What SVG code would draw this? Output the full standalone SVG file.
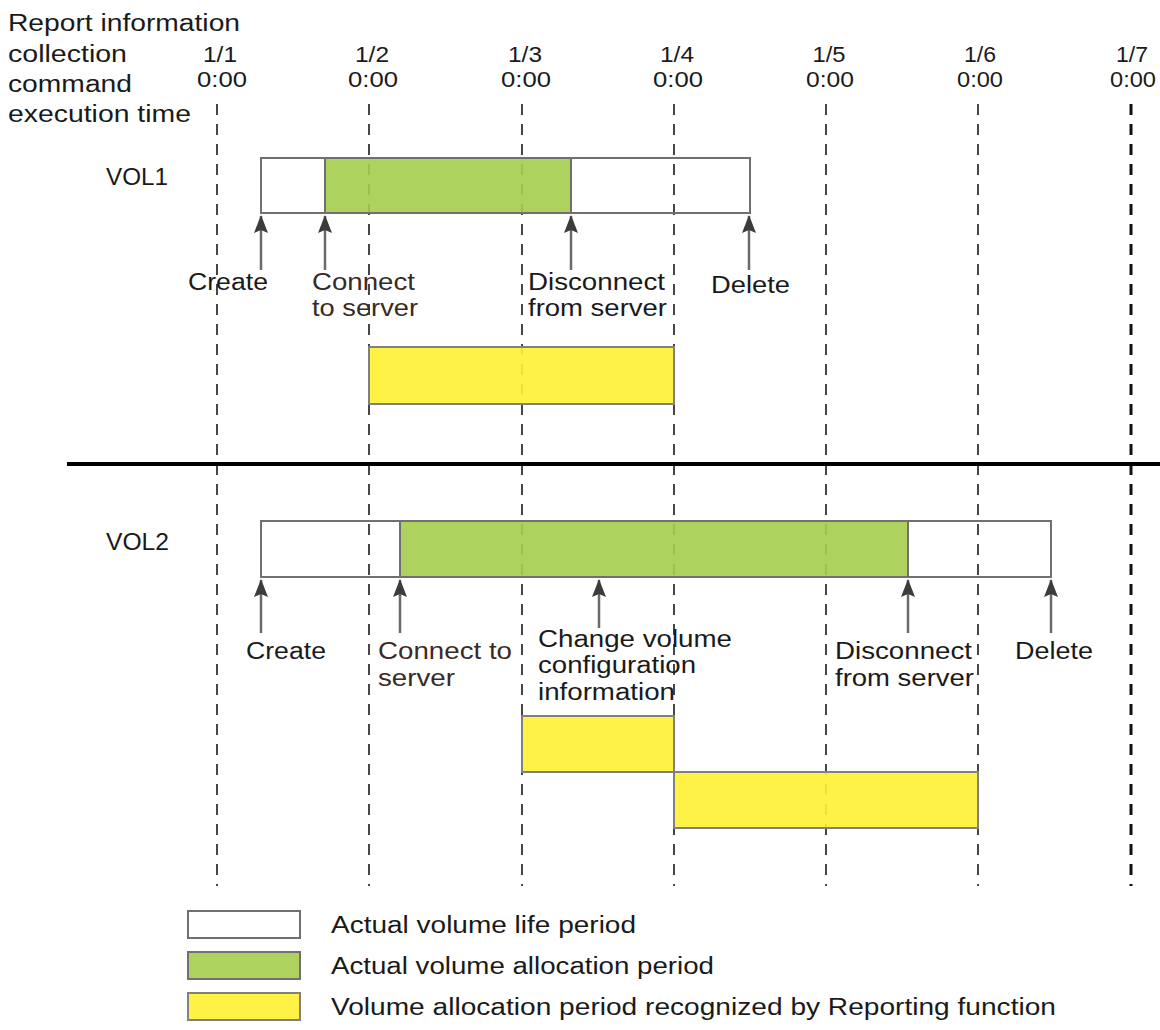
<svg xmlns="http://www.w3.org/2000/svg" width="1160" height="1030" viewBox="0 0 1160 1030">
<style>
  text { font-family: "Liberation Sans", Arial, sans-serif; font-size: 23px; fill: #1a1a1a; }
  .date { font-size: 22px; text-anchor: middle; }
  .brown { fill: #3a2a25; }
  .grid { stroke: #1a1a1a; stroke-width: 1.6; stroke-dasharray: 11 9; fill: none; }
  .grid7 { stroke: #111; stroke-width: 3; stroke-dasharray: 11 9; fill: none; }
  .life { fill: none; stroke: #707070; stroke-width: 2; }
  .alloc { fill: #a4cd4b; fill-opacity: 0.9; stroke: #707070; stroke-width: 2; }
  .recog { fill: #fff133; fill-opacity: 0.9; stroke: #808080; stroke-width: 2; }
  .arrow { stroke: #6a6a6a; stroke-width: 2.5; fill: none; marker-end: url(#ah); }
</style>
<defs>
  <marker id="ah" viewBox="0 0 18 14" refX="17" refY="7" markerWidth="18" markerHeight="14" markerUnits="userSpaceOnUse" orient="auto">
    <path d="M18,7 L0,0 L3,7 L0,14 Z" fill="#3c3c3c"/>
  </marker>
</defs>
<rect width="1160" height="1030" fill="#ffffff"/>

<g id="header">
  <text x="8" y="31" textLength="232" lengthAdjust="spacingAndGlyphs">Report information</text>
  <text x="8" y="62" textLength="119" lengthAdjust="spacingAndGlyphs">collection</text>
  <text x="8" y="92" textLength="124" lengthAdjust="spacingAndGlyphs">command</text>
  <text x="8" y="122" textLength="183" lengthAdjust="spacingAndGlyphs">execution time</text>
</g>

<g id="dates">
  <text class="date" x="220" y="62" textLength="34" lengthAdjust="spacingAndGlyphs">1/1</text><text class="date" x="222" y="87" textLength="50" lengthAdjust="spacingAndGlyphs">0:00</text>
  <text class="date" x="372" y="62" textLength="34" lengthAdjust="spacingAndGlyphs">1/2</text><text class="date" x="373" y="87" textLength="50" lengthAdjust="spacingAndGlyphs">0:00</text>
  <text class="date" x="525" y="62" textLength="34" lengthAdjust="spacingAndGlyphs">1/3</text><text class="date" x="526" y="87" textLength="50" lengthAdjust="spacingAndGlyphs">0:00</text>
  <text class="date" x="677" y="62" textLength="34" lengthAdjust="spacingAndGlyphs">1/4</text><text class="date" x="678" y="87" textLength="50" lengthAdjust="spacingAndGlyphs">0:00</text>
  <text class="date" x="829" y="62" textLength="33" lengthAdjust="spacingAndGlyphs">1/5</text><text class="date" x="830" y="87" textLength="48" lengthAdjust="spacingAndGlyphs">0:00</text>
  <text class="date" x="980" y="62" textLength="32" lengthAdjust="spacingAndGlyphs">1/6</text><text class="date" x="980" y="87" textLength="46" lengthAdjust="spacingAndGlyphs">0:00</text>
  <text class="date" x="1132" y="62" textLength="32" lengthAdjust="spacingAndGlyphs">1/7</text><text class="date" x="1133" y="87" textLength="46" lengthAdjust="spacingAndGlyphs">0:00</text>
</g>

<g id="gridlines">
  <line class="grid" x1="217" y1="104" x2="217" y2="886"/>
  <line class="grid" x1="369" y1="104" x2="369" y2="886"/>
  <line class="grid" x1="522" y1="104" x2="522" y2="886"/>
  <line class="grid" x1="674" y1="104" x2="674" y2="886"/>
  <line class="grid" x1="826" y1="104" x2="826" y2="886"/>
  <line class="grid" x1="978" y1="104" x2="978" y2="886"/>
  <line class="grid7" x1="1131" y1="104" x2="1131" y2="886"/>
</g>

<g id="separator">
  <line x1="67" y1="464" x2="1160" y2="464" stroke="#000" stroke-width="4"/>
</g>

<g id="vol1">
  <text x="106" y="185" textLength="62" lengthAdjust="spacingAndGlyphs">VOL1</text>
  <rect class="alloc" x="325" y="158" width="246" height="55"/>
  <rect class="life" x="261" y="158" width="489" height="55"/>
  <rect class="recog" x="369" y="347" width="305" height="57"/>
</g>

<g id="vol2">
  <text x="106" y="550" textLength="63" lengthAdjust="spacingAndGlyphs">VOL2</text>
  <rect class="alloc" x="400" y="521" width="508" height="56"/>
  <rect class="life" x="261" y="521" width="790" height="56"/>
  <rect class="recog" x="522" y="716" width="152" height="56"/>
  <rect class="recog" x="674" y="772" width="304" height="56"/>
</g>

<g id="connectors">
  <line class="arrow" x1="261" y1="270" x2="261" y2="216"/>
  <line class="arrow" x1="325" y1="270" x2="325" y2="216"/>
  <line class="arrow" x1="571" y1="270" x2="571" y2="216"/>
  <line class="arrow" x1="749" y1="270" x2="749" y2="216"/>
  <line class="arrow" x1="261" y1="633" x2="261" y2="580"/>
  <line class="arrow" x1="400" y1="633" x2="400" y2="580"/>
  <line class="arrow" x1="599" y1="628" x2="599" y2="580"/>
  <line class="arrow" x1="908" y1="633" x2="908" y2="580"/>
  <line class="arrow" x1="1051" y1="633" x2="1051" y2="580"/>
</g>

<g id="vol1-labels">
  <text x="188" y="290" textLength="80" lengthAdjust="spacingAndGlyphs">Create</text>
  <text class="brown" x="312" y="290" textLength="103" lengthAdjust="spacingAndGlyphs">Connect</text>
  <text class="brown" x="312" y="316" textLength="106" lengthAdjust="spacingAndGlyphs">to server</text>
  <text x="528" y="290" textLength="137" lengthAdjust="spacingAndGlyphs">Disconnect</text>
  <text x="528" y="316" textLength="139" lengthAdjust="spacingAndGlyphs">from server</text>
  <text x="711" y="293" textLength="79" lengthAdjust="spacingAndGlyphs">Delete</text>
</g>

<g id="vol2-labels">
  <text x="246" y="659" textLength="80" lengthAdjust="spacingAndGlyphs">Create</text>
  <text class="brown" x="378" y="659" textLength="134" lengthAdjust="spacingAndGlyphs">Connect to</text>
  <text class="brown" x="378" y="686" textLength="77" lengthAdjust="spacingAndGlyphs">server</text>
  <text x="538" y="647" textLength="194" lengthAdjust="spacingAndGlyphs">Change volume</text>
  <text x="538" y="673" textLength="158" lengthAdjust="spacingAndGlyphs">configuration</text>
  <text x="538" y="700" textLength="137" lengthAdjust="spacingAndGlyphs">information</text>
  <text x="835" y="659" textLength="137" lengthAdjust="spacingAndGlyphs">Disconnect</text>
  <text x="835" y="686" textLength="139" lengthAdjust="spacingAndGlyphs">from server</text>
  <text x="1015" y="659" textLength="78" lengthAdjust="spacingAndGlyphs">Delete</text>
</g>

<g id="legend">
  <rect class="life" x="188" y="911" width="112" height="27"/>
  <text x="331" y="933" textLength="305" lengthAdjust="spacingAndGlyphs">Actual volume life period</text>
  <rect class="alloc" x="188" y="952" width="112" height="27" fill-opacity="1"/>
  <text x="331" y="974" textLength="383" lengthAdjust="spacingAndGlyphs">Actual volume allocation period</text>
  <rect class="recog" x="188" y="993" width="112" height="27" fill-opacity="1"/>
  <text x="331" y="1015" textLength="725" lengthAdjust="spacingAndGlyphs">Volume allocation period recognized by Reporting function</text>
</g>
</svg>
